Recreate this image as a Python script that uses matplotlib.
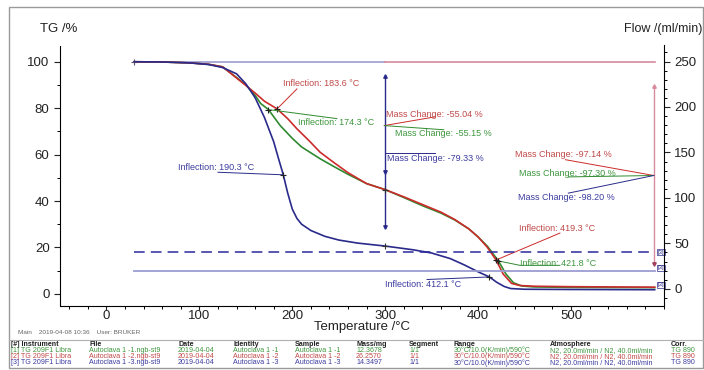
import matplotlib
matplotlib.use("Agg")
import matplotlib.pyplot as plt
from matplotlib.lines import Line2D
from matplotlib.patches import Rectangle
from matplotlib.ticker import MultipleLocator

plt.rcParams["font.family"] = ["Liberation Sans", "DejaVu Sans"]

# TG curves (temperature in °C, mass in %)
t_green = [30, 60, 90, 110, 125, 140, 150, 160, 166, 174.3, 187, 200, 210, 230, 245, 260,
           280, 300, 320, 340, 360, 375, 390, 400, 410, 421.8, 430, 438, 447, 460, 500, 590]
tg_green = [100, 99.9, 99.5, 98.9, 97.8, 93.2, 90, 85.5, 82, 79.4, 72.5, 67, 63.3, 58.2, 54.8, 51.5,
            47.5, 44.9, 41.5, 38, 34.8, 31.8, 28, 24.5, 20.5, 14.2, 8.5, 4.8, 3.4, 3.0, 2.8, 2.7]
t_red = [30, 60, 90, 110, 125, 140, 150, 160, 170, 183.6, 195, 205, 218, 230, 245, 260,
         280, 300, 320, 340, 360, 375, 390, 400, 410, 419.3, 427, 436, 445, 460, 500, 590]
tg_red = [100, 99.9, 99.5, 98.9, 97.8, 93, 89.8, 86.5, 83, 79.7, 75.5, 71.1, 66, 61, 56.5, 52.2,
          47.5, 44.9, 41.8, 38.5, 35.2, 32, 28, 24.5, 20, 14.6, 8.5, 4.5, 3.6, 3.3, 3.1, 2.9]
t_blue = [30, 60, 90, 110, 125, 140, 150, 160, 170, 180, 185, 190.3, 195, 200, 205, 210, 220,
          235, 250, 270, 300, 330, 350, 370, 385, 400, 412.1, 420, 428, 435, 450, 500, 590]
tg_blue = [100, 99.9, 99.5, 98.8, 97.5, 94.8, 90.5, 84.5, 76, 65.5, 58.5, 51.3, 43.5, 36.5, 32.5, 30, 27.3,
           24.8, 23.2, 21.9, 20.6, 19, 17.6, 15.2, 12.5, 9.5, 7.3, 5, 3.2, 2.3, 2.0, 1.9, 1.8]

# purge / protective gas flow (ml/min)
flow_temps = [30, 590]
flow_purge1 = [20, 20]
flow_purge2 = [40, 40]

inflections = [  # (colour key, T, TG, label, text pos, leader end)
    ("r", 183.6, 79.7, "Inflection: 183.6 °C", (190, 90.6), [(205, 88.3)]),
    ("g", 174.3, 79.4, "Inflection: 174.3 °C", (206, 74.0), [(248, 75.5)]),
    ("b", 190.3, 51.3, "Inflection: 190.3 °C", (77, 54.4), [(120, 52.4)]),
    ("r", 419.3, 14.6, "Inflection: 419.3 °C", (444, 28.3), [(488, 26.2)]),
    ("g", 421.8, 14.2, "Inflection: 421.8 °C", (445, 13.3), [(445, 12.3), (488, 12.3)]),
    ("b", 412.1, 7.3, "Inflection: 412.1 °C", (300, 4.2), [(345, 6.2)]),
]
mass_changes = [  # (colour key, label, text pos, leader start, leader end)
    ("r", "Mass Change: -55.04 %", (300.5, 77.3), (299, 72.5), (354, 76.3)),
    ("g", "Mass Change: -55.15 %", (310, 69.1), (299, 72.5), (363, 70.7)),
    ("b", "Mass Change: -79.33 %", (302, 58.4), (300, 60.6), (354, 60.6)),
    ("r", "Mass Change: -97.14 %", (440, 60.1), (589, 51), (494, 57.8)),
    ("g", "Mass Change: -97.30 %", (444, 52.0), (589, 51), (497, 50.4)),
    ("b", "Mass Change: -98.20 %", (443, 41.6), (589, 51), (497, 43.4)),
]

table_cols = ["[#] Instrument", "File", "Date", "Identity", "Sample", "Mass/mg",
              "Segment", "Range", "Atmosphere", "Corr."]
table_rows = [
    ["[1] TG 209F1 Libra", "Autoclava 1 -1.ngb-st9", "2019-04-04", "Autoclava 1 -1", "Autoclava 1 -1",
     "12.3678", "1/1", "30°C/10.0(K/min)/590°C", "N2, 20.0ml/min / N2, 40.0ml/min", "TG 890"],
    ["[2] TG 209F1 Libra", "Autoclava 1 -2.ngb-st9", "2019-04-04", "Autoclava 1 -2", "Autoclava 1 -2",
     "26.2570", "1/1", "30°C/10.0(K/min)/590°C", "N2, 20.0ml/min / N2, 40.0ml/min", "TG 890"],
    ["[3] TG 209F1 Libra", "Autoclava 1 -3.ngb-st9", "2019-04-04", "Autoclava 1 -3", "Autoclava 1 -3",
     "14.3497", "1/1", "30°C/10.0(K/min)/590°C", "N2, 20.0ml/min / N2, 40.0ml/min", "TG 890"],
]

line_col = {"r": "#cc2b2b", "g": "#2f8a2f", "b": "#2a2a8c"}
text_col = {"r": "#c04848", "g": "#3d963d", "b": "#3c3ca0"}
row_col = ["#3d963d", "#c04848", "#3c3ca0"]
lavender = "#9c9cd2"
pink = "#d88a9c"

W, H = 704, 370
fig = plt.figure(figsize=(W / 100, H / 100), dpi=100)
ax = fig.add_axes([60 / W, 1 - 305.5 / H, 604 / W, 260 / H])
ax2 = ax.twinx()

ax.set_xlim(-50, 600)
ax.set_ylim(-5, 107)
ax2.set_ylim(-18.4, 267.6)

# flow lines on the right axis
ax2.plot(flow_temps, flow_purge2, color="#2a2a9c", lw=1.1, dashes=(7, 4))
ax2.plot(flow_temps, flow_purge1, color=lavender, lw=1.3)
ax.plot([30, 300], [100, 100], color=lavender, lw=1.2)
ax.plot([300, 590], [100, 100], color=pink, lw=1.2)
ax.plot([30], [100], marker="+", color="#555577", ms=5, mew=0.8)

ax.plot(t_green, tg_green, color=line_col["g"], lw=1.2)
ax.plot(t_red, tg_red, color=line_col["r"], lw=1.2)
ax.plot(t_blue, tg_blue, color=line_col["b"], lw=1.2)

# mass change arrows
ax.plot([300, 300], [94, 29], color="#2a2a8c", lw=1.0)
ax.plot([300], [94], marker="^", color="#2a2a8c", ms=2.5)
ax.plot([300, 300], [52.3, 29], marker="v", ls="none", color="#2a2a8c", ms=2.5)
ax.plot([300, 300], [44.9, 20.6], marker="+", ls="none", color="#333333", ms=5, mew=0.8)
ax.plot([589, 589], [89.7, 13], color=pink, lw=1.0)
ax.plot([589], [89.7], marker="^", color=pink, ms=2.5)
ax.plot([589], [13], marker="v", color="#a04060", ms=2.5)

for key, t, v, label, (tx, ty), pts in inflections:
    xs = [t] + [p[0] for p in pts]
    ys = [v] + [p[1] for p in pts]
    ax.plot(xs, ys, color=line_col[key], lw=0.7)
    ax.plot([t], [v], marker="+", color="#222222", ms=5, mew=0.8)
    ax.text(tx, ty, label, color=text_col[key], fontsize=6.5, va="center", ha="left")

for key, label, (tx, ty), (x0, y0), (x1, y1) in mass_changes:
    ax.plot([x0, x1], [y0, y1], color=line_col[key], lw=0.7)
    ax.text(tx, ty, label, color=text_col[key], fontsize=6.5, va="center", ha="left")

# curve labels "[3]" at the right end
for yv in [17.9, 11.2, 3.9]:
    ax.text(593, yv, "[3]", fontsize=4.2, color="#2a2a8c", ha="left", va="center",
            bbox=dict(boxstyle="square,pad=0.1", fc="white", ec="#2a2a8c", lw=0.5))

for a in (ax, ax2):
    a.spines["top"].set_visible(False)
    a.tick_params(labelsize=9.5, length=4, width=0.8, colors="#222222", direction="out")
    a.tick_params(which="minor", length=2.5, width=0.7)
ax.tick_params(axis="x", length=3, pad=0)
ax.tick_params(axis="x", which="minor", length=2)
ax.spines["right"].set_visible(False)
ax2.spines["left"].set_visible(False)
ax2.spines["bottom"].set_visible(False)
ax.xaxis.set_major_locator(MultipleLocator(100))
ax.xaxis.set_minor_locator(MultipleLocator(20))
ax.yaxis.set_major_locator(MultipleLocator(20))
ax.yaxis.set_minor_locator(MultipleLocator(10))
ax2.yaxis.set_major_locator(MultipleLocator(50))
ax2.yaxis.set_minor_locator(MultipleLocator(10))
ax.set_xticks([0, 100, 200, 300, 400, 500])

fig.text(40 / W, 1 - 29 / H, "TG /%", fontsize=9.5, va="center", color="#222222")
fig.text(624 / W, 1 - 29 / H, "Flow /(ml/min)", fontsize=9, va="center", color="#222222")
fig.text(362 / W, 1 - 327 / H, "Temperature /°C", fontsize=9.5, ha="center", va="center",
         color="#222222")

# frame, footer and info table
fig.add_artist(Rectangle((9 / W, 1 - 368 / H), 694 / W, 361 / H, transform=fig.transFigure,
                         fill=False, ec="#9a9a9a", lw=1.0))
fig.add_artist(Line2D([9 / W, 703 / W], [1 - 340 / H, 1 - 340 / H], color="#b0b0b0", lw=0.8))
fig.text(18 / W, 1 - 332 / H, "Main    2019-04-08 10:36    User: BRUKER", fontsize=4.6,
         color="#666666", va="center")
col_x = [11, 89, 178, 233, 295, 356, 409, 454, 550, 671]
for cx, name in zip(col_x, table_cols):
    fig.text(cx / W, 1 - 344 / H, name, fontsize=5.1, weight="bold", color="#222222", va="center")
for ri, row in enumerate(table_rows):
    yy = 1 - (350.3 + 6.2 * ri) / H
    for cx, cell in zip(col_x, row):
        fig.text(cx / W, yy, cell, fontsize=5.1, color=row_col[ri], va="center")

fig.savefig("out.png", dpi=100)
